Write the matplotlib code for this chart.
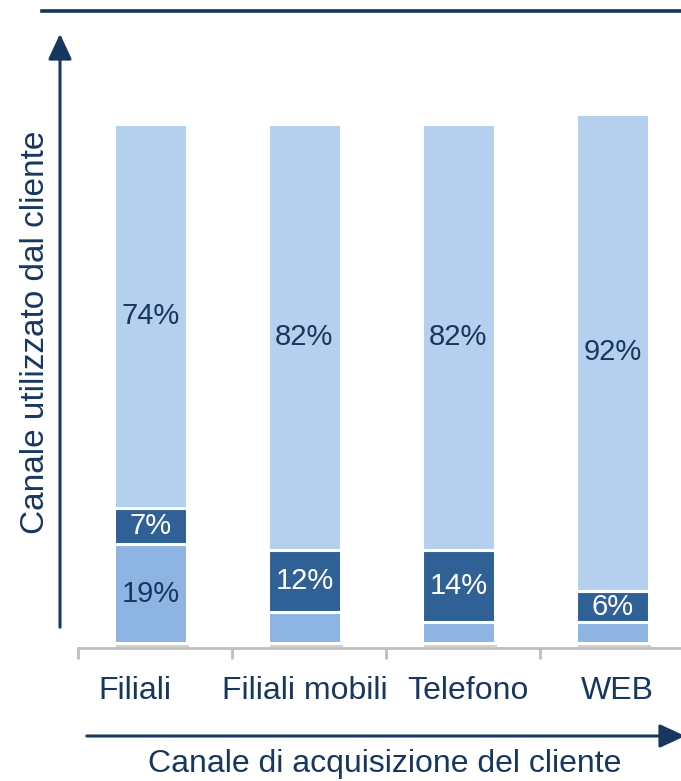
import matplotlib
matplotlib.use("Agg")
import matplotlib.pyplot as plt
import matplotlib.patheffects as pe
import numpy as np

plt.rcParams["font.family"] = ["Liberation Sans", "DejaVu Sans"]

W, H = 681, 781
NAVY = "#17375E"
DARK = "#2F6096"
MID = "#8DB4E2"
LIGHT = "#B4D0EE"
GREY = "#BFBFBF"

categories = ["Filiali", "Filiali mobili", "Telefono", "WEB"]
bottom_vals = [19, 6, 4, 4]        # segmento inferiore (etichetta solo su Filiali)
middle_vals = [7, 12, 14, 6]
top_vals = [74, 82, 82, 92]
bottom_labels = ["19%", "", "", ""]
label_px = [135, 305, 468, 617]    # centro delle etichette di categoria (pixel)


def fx(px):
    return px / W


def fy(py):
    return 1 - py / H


fig = plt.figure(figsize=(W / 100, H / 100), dpi=100)

# assi: 0 al pixel 643, 5.19 px per punto percentuale
scale = 5.19
ax_left, ax_right, ax_bot, ax_top = 78, 694, 648, 108
ax = fig.add_axes([fx(ax_left), fy(ax_bot), (ax_right - ax_left) / W, (ax_bot - ax_top) / H])
ax.set_xlim(-0.47, 3.53)
y0 = -(ax_bot - 643) / scale
ax.set_ylim(y0, y0 + (ax_bot - ax_top) / scale)

x = np.arange(len(categories))
w = 0.47
shadow = [pe.SimplePatchShadow(offset=(1.5, -3), shadow_rgbFace="#666666", alpha=0.3), pe.Normal()]
b = np.array(bottom_vals, float)
m = np.array(middle_vals, float)
t = np.array(top_vals, float)
bars_b = ax.bar(x, b, w, color=MID, edgecolor="white", linewidth=2.2)
bars_m = ax.bar(x, m, w, bottom=b, color=DARK, edgecolor="white", linewidth=2.2)
bars_t = ax.bar(x, t, w, bottom=b + m, color=LIGHT, edgecolor="white", linewidth=2.2)
for bar in bars_b:
    bar.set_path_effects(shadow)

fs = 21
for i in range(len(categories)):
    ax.text(x[i], b[i] + m[i] + t[i] / 2, f"{top_vals[i]}%", ha="center", va="center",
            color=NAVY, fontsize=fs)
    ax.text(x[i], b[i] + m[i] / 2, f"{middle_vals[i]}%", ha="center", va="center",
            color="white", fontsize=fs)
    if bottom_labels[i]:
        ax.text(x[i], b[i] / 2, bottom_labels[i], ha="center", va="center",
                color=NAVY, fontsize=fs)

for s in ["top", "left", "right"]:
    ax.spines[s].set_visible(False)
ax.spines["bottom"].set_color(GREY)
ax.spines["bottom"].set_linewidth(2)
ax.set_yticks([])
ax.set_xticks([])
ax.set_xticks(x - 0.47, minor=True)
ax.tick_params(axis="x", which="minor", length=8, width=2, color=GREY, direction="out",
               labelbottom=False)

for name, px in zip(categories, label_px):
    fig.text(fx(px), fy(691), name, ha="center", va="center", color=NAVY, fontsize=23)

# linea superiore
fig.add_artist(plt.Line2D([fx(42), fx(681)], [fy(11), fy(11)], color=NAVY, lw=2.6))

# freccia asse verticale
fig.add_artist(matplotlib.patches.FancyArrowPatch(
    (fx(60), fy(630)), (fx(60), fy(31)), transform=fig.transFigure,
    arrowstyle="-|>,head_length=1.3,head_width=0.6", mutation_scale=12,
    color=NAVY, lw=2.2))
fig.text(fx(36), fy(332), "Canale utilizzato dal cliente", rotation=90,
         ha="center", va="center", color=NAVY, fontsize=24)

# freccia asse orizzontale
fig.add_artist(matplotlib.patches.FancyArrowPatch(
    (fx(84), fy(736)), (fx(688), fy(736)), transform=fig.transFigure,
    arrowstyle="-|>,head_length=1.3,head_width=0.6", mutation_scale=12,
    color=NAVY, lw=2.2))
fig.text(fx(385), fy(764), "Canale di acquisizione del cliente",
         ha="center", va="center", color=NAVY, fontsize=23)

fig.savefig("out.png", dpi=100, facecolor="white")
